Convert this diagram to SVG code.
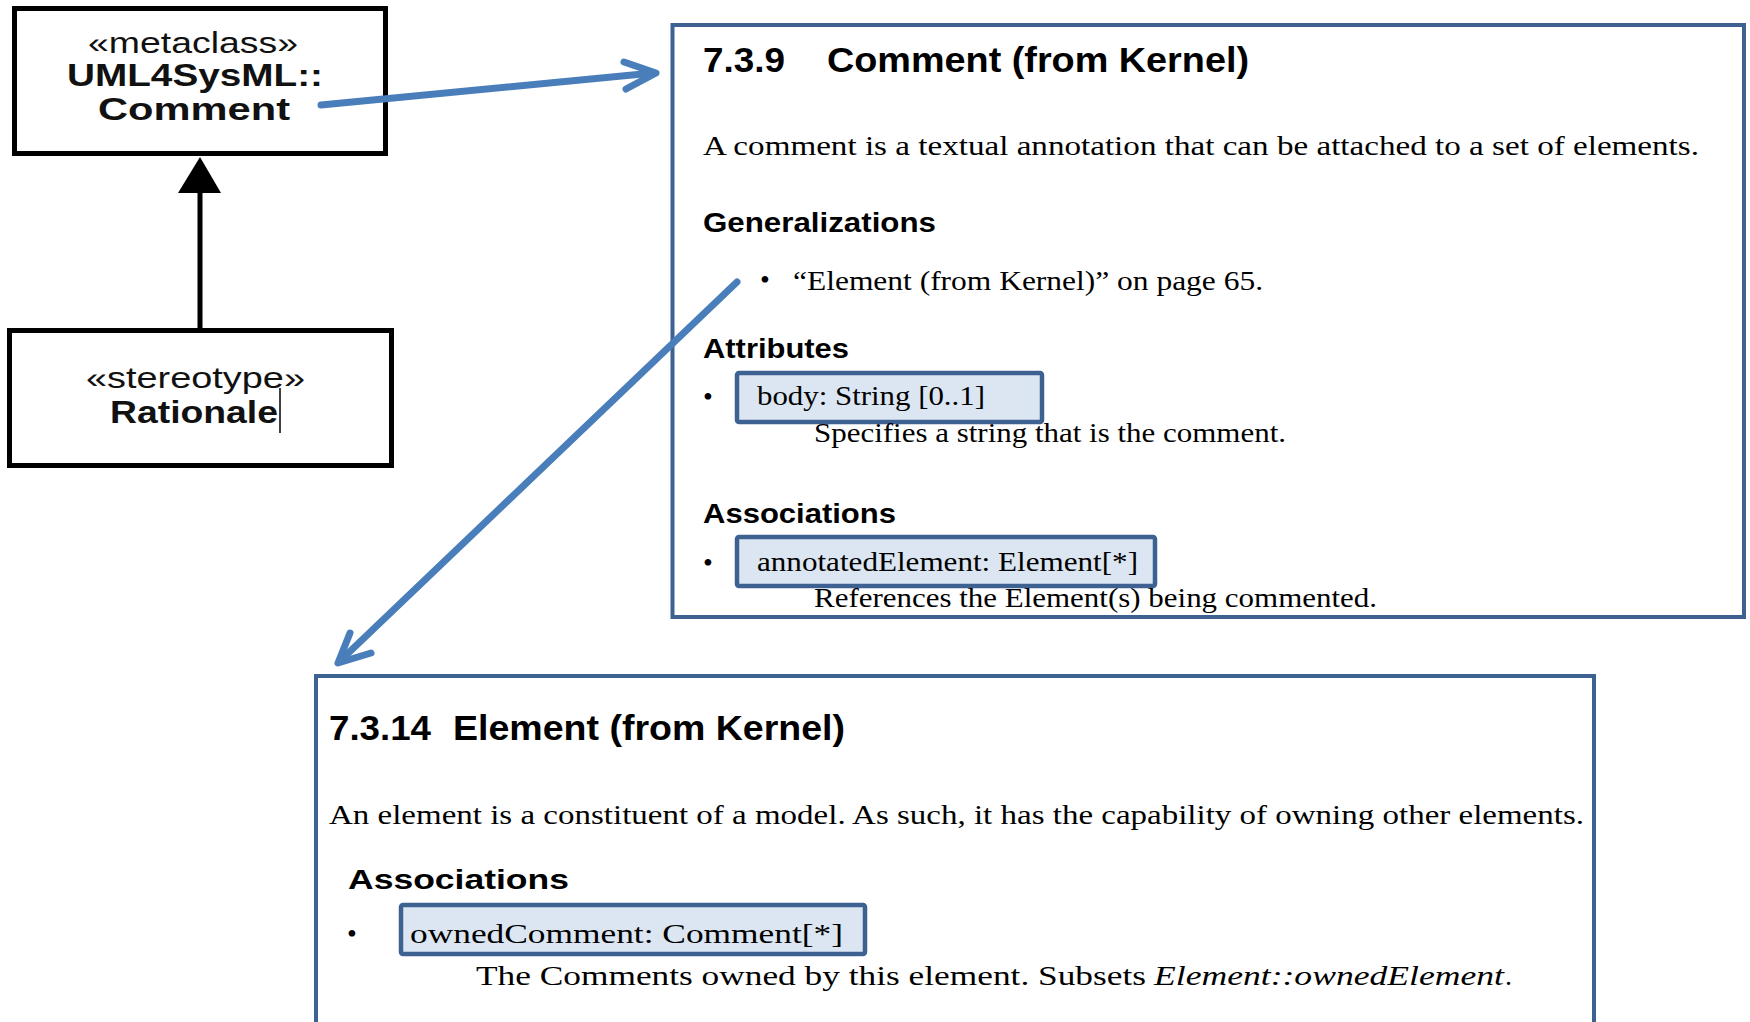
<svg xmlns="http://www.w3.org/2000/svg" width="1750" height="1022" viewBox="0 0 1750 1022">
  <defs>
    <style>
      .uml { fill: #ffffff; stroke: #000000; stroke-width: 5; }
      .page { fill: #ffffff; stroke: #3d6291; stroke-width: 4; }
      .hl { fill: #dce6f2; stroke: #3d6291; stroke-width: 4.5; }
      .ster { font-family: "Liberation Sans", Arial, sans-serif; font-size: 29px; fill: #111111; }
      .name { font-family: "Liberation Sans", Arial, sans-serif; font-size: 31px; font-weight: bold; fill: #111111; }
      .h1 { font-family: "Liberation Sans", Arial, sans-serif; font-size: 35px; font-weight: bold; fill: #000000; }
      .h2 { font-family: "Liberation Sans", Arial, sans-serif; font-size: 28px; font-weight: bold; fill: #000000; }
      .tx { font-family: "Liberation Serif", "Times New Roman", serif; font-size: 28px; fill: #000000; }
      .it { font-style: italic; }
      .link { fill: none; stroke: #4a7ebb; stroke-width: 7; stroke-linecap: round; stroke-linejoin: round; }
    </style>
  </defs>

  <!-- UML metaclass -->
  <g id="metaclass-comment">
    <rect class="uml" x="14.5" y="8.5" width="371" height="145"/>
    <text class="ster" x="88" y="53" textLength="210" lengthAdjust="spacingAndGlyphs">«metaclass»</text>
    <text class="name" x="67" y="86" textLength="256" lengthAdjust="spacingAndGlyphs">UML4SysML::</text>
    <text class="name" x="98" y="120" textLength="192" lengthAdjust="spacingAndGlyphs">Comment</text>
  </g>

  <!-- UML stereotype -->
  <g id="stereotype-rationale">
    <rect class="uml" x="9.5" y="330.5" width="382" height="135"/>
    <text class="ster" x="86" y="388" textLength="219" lengthAdjust="spacingAndGlyphs">«stereotype»</text>
    <text class="name" x="110" y="423" textLength="168" lengthAdjust="spacingAndGlyphs">Rationale</text>
    <line x1="280" y1="388" x2="280" y2="433" stroke="#000000" stroke-width="1.5"/>
  </g>

  <!-- Spec page: 7.3.9 Comment -->
  <g id="spec-comment">
    <rect class="page" x="672.5" y="25" width="1071.5" height="592"/>
    <text class="h1" x="703" y="72" textLength="82" lengthAdjust="spacingAndGlyphs">7.3.9</text>
    <text class="h1" x="827" y="72" textLength="422" lengthAdjust="spacingAndGlyphs">Comment (from Kernel)</text>
    <text class="tx" x="703" y="155" textLength="996" lengthAdjust="spacingAndGlyphs">A comment is a textual annotation that can be attached to a set of elements.</text>
    <text class="h2" x="703" y="232" textLength="233" lengthAdjust="spacingAndGlyphs">Generalizations</text>
    <text class="tx" x="760" y="289">•</text>
    <text class="tx" x="793" y="290" textLength="470" lengthAdjust="spacingAndGlyphs">“Element (from Kernel)” on page 65.</text>
    <text class="h2" x="703" y="358" textLength="146" lengthAdjust="spacingAndGlyphs">Attributes</text>
    <text class="tx" x="703" y="406">•</text>
    <rect class="hl" x="737" y="373" width="305" height="49" rx="2"/>
    <text class="tx" x="757" y="405" textLength="228" lengthAdjust="spacingAndGlyphs">body: String [0..1]</text>
    <text class="tx" x="814" y="442" textLength="472" lengthAdjust="spacingAndGlyphs">Specifies a string that is the comment.</text>
    <text class="h2" x="703" y="523" textLength="193" lengthAdjust="spacingAndGlyphs">Associations</text>
    <text class="tx" x="703" y="572">•</text>
    <rect class="hl" x="737" y="537" width="418" height="49" rx="2"/>
    <text class="tx" x="757" y="571" textLength="381" lengthAdjust="spacingAndGlyphs">annotatedElement: Element[*]</text>
    <text class="tx" x="814" y="607" textLength="563" lengthAdjust="spacingAndGlyphs">References the Element(s) being commented.</text>
  </g>

  <!-- Spec page: 7.3.14 Element -->
  <g id="spec-element">
    <rect class="page" x="316" y="676" width="1278" height="360"/>
    <text class="h1" x="329" y="740" textLength="102" lengthAdjust="spacingAndGlyphs">7.3.14</text>
    <text class="h1" x="453" y="740" textLength="392" lengthAdjust="spacingAndGlyphs">Element (from Kernel)</text>
    <text class="tx" x="329" y="824" textLength="1255" lengthAdjust="spacingAndGlyphs">An element is a constituent of a model. As such, it has the capability of owning other elements.</text>
    <text class="h2" x="348" y="889" textLength="221" lengthAdjust="spacingAndGlyphs">Associations</text>
    <text class="tx" x="347" y="943">•</text>
    <rect class="hl" x="401" y="905" width="464" height="49" rx="2"/>
    <text class="tx" x="410" y="943" textLength="433" lengthAdjust="spacingAndGlyphs">ownedComment: Comment[*]</text>
    <text class="tx" x="476" y="985" textLength="670" lengthAdjust="spacingAndGlyphs">The Comments owned by this element. Subsets</text>
    <text class="tx it" x="1154" y="985" textLength="350" lengthAdjust="spacingAndGlyphs">Element::ownedElement</text>
    <text class="tx" x="1505" y="985">.</text>
  </g>

  <!-- Connectors -->
  <g id="connectors">
    <!-- generalization: Rationale extends Comment -->
    <line x1="200" y1="328" x2="200" y2="190" stroke="#000000" stroke-width="5"/>
    <polygon points="200,157 178,193 221,193" fill="#000000"/>
    <!-- metaclass to its spec page -->
    <line class="link" x1="321" y1="105" x2="653" y2="73"/>
    <polyline class="link" points="624,62 656,73 626,89"/>
    <!-- generalization reference to Element page -->
    <line class="link" x1="737" y1="282" x2="341" y2="660"/>
    <polyline class="link" points="350,633 338,663 371,653"/>
  </g>
</svg>
